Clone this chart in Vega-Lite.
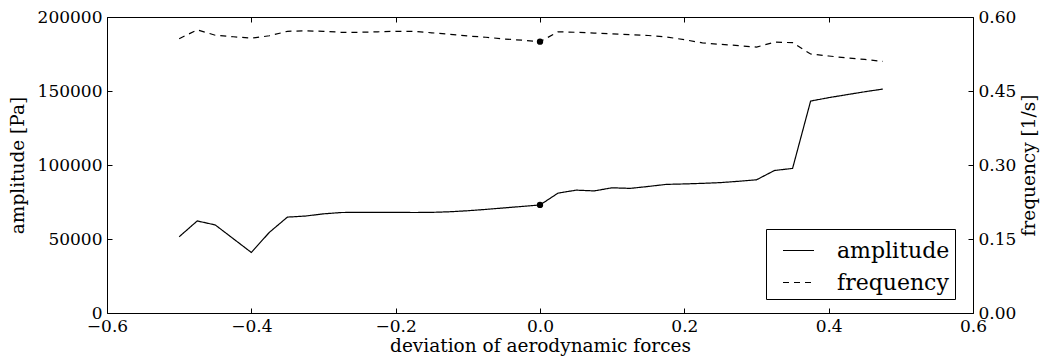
{
  "$schema": "https://vega.github.io/schema/vega-lite/v6.json",
  "width": 866,
  "height": 296,
  "autosize": {"type": "none"},
  "padding": {"left": 107, "top": 17, "right": 68, "bottom": 45},
  "background": "white",
  "config": {
    "view": {"stroke": null},
    "font": "DejaVu Serif",
    "axis": {
      "domainColor": "black",
      "domainWidth": 1,
      "tickColor": "black",
      "tickWidth": 1,
      "tickSize": -5,
      "labelPadding": 10,
      "labelFont": "DejaVu Serif",
      "labelFontSize": 17,
      "labelColor": "black",
      "labelFlush": false,
      "labelOverlap": false,
      "titleFont": "DejaVu Serif",
      "titleFontSize": 18.5,
      "titleFontWeight": "normal",
      "titleColor": "black",
      "grid": false
    }
  },
  "data": {
    "values": [
      {"x": -0.5, "amplitude": 51500, "frequency": 0.556},
      {"x": -0.475, "amplitude": 62200, "frequency": 0.574},
      {"x": -0.45, "amplitude": 59500, "frequency": 0.563},
      {"x": -0.425, "amplitude": 50200, "frequency": 0.56},
      {"x": -0.4, "amplitude": 40900, "frequency": 0.557},
      {"x": -0.375, "amplitude": 54500, "frequency": 0.562},
      {"x": -0.35, "amplitude": 64800, "frequency": 0.571},
      {"x": -0.325, "amplitude": 65500, "frequency": 0.572},
      {"x": -0.3, "amplitude": 67000, "frequency": 0.571},
      {"x": -0.275, "amplitude": 67900, "frequency": 0.569},
      {"x": -0.25, "amplitude": 68000, "frequency": 0.569},
      {"x": -0.225, "amplitude": 68000, "frequency": 0.57},
      {"x": -0.2, "amplitude": 68000, "frequency": 0.571},
      {"x": -0.175, "amplitude": 67900, "frequency": 0.571},
      {"x": -0.15, "amplitude": 68000, "frequency": 0.568},
      {"x": -0.125, "amplitude": 68400, "frequency": 0.565},
      {"x": -0.1, "amplitude": 69100, "frequency": 0.5615},
      {"x": -0.075, "amplitude": 70000, "frequency": 0.559},
      {"x": -0.05, "amplitude": 71000, "frequency": 0.5555},
      {"x": -0.025, "amplitude": 72000, "frequency": 0.553},
      {"x": 0, "amplitude": 73000, "frequency": 0.55},
      {"x": 0.025, "amplitude": 81000, "frequency": 0.57},
      {"x": 0.05, "amplitude": 83000, "frequency": 0.569},
      {"x": 0.075, "amplitude": 82500, "frequency": 0.5675},
      {"x": 0.1, "amplitude": 84600, "frequency": 0.566},
      {"x": 0.125, "amplitude": 84200, "frequency": 0.564},
      {"x": 0.15, "amplitude": 85500, "frequency": 0.5625},
      {"x": 0.175, "amplitude": 86900, "frequency": 0.5595},
      {"x": 0.2, "amplitude": 87200, "frequency": 0.554},
      {"x": 0.225, "amplitude": 87600, "frequency": 0.5475},
      {"x": 0.25, "amplitude": 88100, "frequency": 0.5445},
      {"x": 0.275, "amplitude": 89000, "frequency": 0.542},
      {"x": 0.3, "amplitude": 90000, "frequency": 0.539},
      {"x": 0.325, "amplitude": 96300, "frequency": 0.549},
      {"x": 0.35, "amplitude": 97700, "frequency": 0.548},
      {"x": 0.375, "amplitude": 143200, "frequency": 0.525},
      {"x": 0.4, "amplitude": 145500, "frequency": 0.521},
      {"x": 0.425, "amplitude": 147500, "frequency": 0.517},
      {"x": 0.45, "amplitude": 149500, "frequency": 0.514},
      {"x": 0.475, "amplitude": 151300, "frequency": 0.51}
    ]
  },
  "layer": [
    {
      "layer": [
        {
          "mark": {"type": "line", "color": "black", "strokeWidth": 1.2},
          "encoding": {
            "x": {
              "field": "x", "type": "quantitative",
              "scale": {"domain": [-0.6, 0.6], "nice": false, "zero": false},
              "axis": {"orient": "bottom", "values": [-0.6, -0.4, -0.2, 0, 0.2, 0.4, 0.6], "format": ".1f", "title": "deviation of aerodynamic forces", "titlePadding": 2}
            },
            "y": {
              "field": "amplitude", "type": "quantitative",
              "scale": {"domain": [0, 200000], "nice": false},
              "axis": {"orient": "left", "values": [0, 50000, 100000, 150000, 200000], "format": "d", "title": "amplitude [Pa]", "titlePadding": 10}
            },
            "strokeDash": {
              "datum": "amplitude", "type": "nominal",
              "scale": {"domain": ["amplitude", "frequency"], "range": [[1, 0], [6, 5]]},
              "legend": {
                "orient": "none", "legendX": 659, "legendY": 212,
                "title": null,
                "symbolType": "stroke", "symbolSize": 961, "symbolStrokeWidth": 1.2,
                "symbolStrokeColor": "black",
                "labelFont": "DejaVu Serif", "labelFontSize": 22, "labelColor": "black",
                "padding": 5, "rowPadding": 4, "symbolOffset": 11, "labelOffset": 22,
                "strokeColor": "black", "fillColor": "white", "cornerRadius": 0
              }
            }
          }
        },
        {
          "transform": [{"filter": "datum.x === 0"}],
          "mark": {"type": "circle", "color": "black", "size": 40, "opacity": 1},
          "encoding": {
            "x": {"field": "x", "type": "quantitative"},
            "y": {"field": "amplitude", "type": "quantitative"}
          }
        }
      ]
    },
    {
      "layer": [
        {
          "mark": {"type": "line", "color": "black", "strokeWidth": 1.2},
          "encoding": {
            "x": {
              "field": "x", "type": "quantitative",
              "axis": {"orient": "top", "values": [-0.6, -0.4, -0.2, 0, 0.2, 0.4, 0.6], "labels": false, "title": null}
            },
            "y": {
              "field": "frequency", "type": "quantitative",
              "scale": {"domain": [0, 0.6], "nice": false},
              "axis": {"orient": "right", "values": [0, 0.15, 0.3, 0.45, 0.6], "format": ".2f", "title": "frequency [1/s]", "titleAngle": 270, "titleBaseline": "top", "titlePadding": 4}
            },
            "strokeDash": {"datum": "frequency", "type": "nominal"}
          }
        },
        {
          "transform": [{"filter": "datum.x === 0"}],
          "mark": {"type": "circle", "color": "black", "size": 40, "opacity": 1},
          "encoding": {
            "x": {"field": "x", "type": "quantitative"},
            "y": {"field": "frequency", "type": "quantitative"}
          }
        }
      ]
    }
  ],
  "resolve": {"scale": {"y": "independent"}, "axis": {"x": "independent"}}
}
